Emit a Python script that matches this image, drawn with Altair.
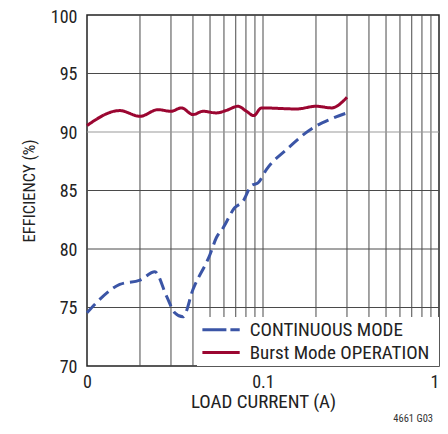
import altair as alt
import pandas as pd

FONT = "Roboto Condensed, Roboto, sans-serif"

series_names = ["CONTINUOUS MODE", "Burst Mode OPERATION"]
series_colors = ["#3b55a6", "#9b0631"]

burst_x = [0.01, 0.01535, 0.02, 0.0253, 0.03, 0.0344, 0.04, 0.0456, 0.0543, 0.062,
           0.0721, 0.0805, 0.0886, 0.0979, 0.155, 0.201, 0.245, 0.3]
burst_y = [90.55, 91.83, 91.34, 91.91, 91.77, 92.06, 91.49, 91.77, 91.63, 91.85,
           92.2, 91.77, 91.4, 92.06, 91.97, 92.2, 92.06, 92.97]

cont_x = [0.01, 0.01535, 0.02, 0.0243, 0.0283, 0.0315, 0.0351, 0.04, 0.05, 0.0543,
          0.0593, 0.069, 0.077, 0.0859, 0.0937, 0.1045, 0.136, 0.192, 0.239, 0.3]
cont_y = [74.55, 76.97, 77.34, 78.05, 75.97, 74.55, 74.2, 76.54, 79.53, 80.96,
          81.8, 83.52, 84.08, 85.42, 85.65, 86.79, 88.5, 90.35, 91.06, 91.63]

x_ticks = [0.01, 0.1, 1]
y_ticks = [70, 75, 80, 85, 90, 95, 100]
grid_x = [0.02, 0.03, 0.04, 0.05, 0.06, 0.07, 0.08, 0.09, 0.1,
          0.2, 0.3, 0.4, 0.5, 0.6, 0.7, 0.8, 0.9]
grid_y = [75, 80, 85, 90, 95]

df = pd.concat([
    pd.DataFrame({"x": cont_x, "y": cont_y, "s": series_names[0], "o": range(len(cont_x))}),
    pd.DataFrame({"x": burst_x, "y": burst_y, "s": series_names[1], "o": range(len(burst_x))}),
])

xscale = alt.Scale(type="log", domain=[0.01, 1], nice=False)
yscale = alt.Scale(domain=[70, 100], nice=False, zero=False)
cscale = alt.Scale(domain=series_names, range=series_colors)
dscale = alt.Scale(domain=series_names, range=[[12, 6], [1, 0]])

gx = alt.Chart(pd.DataFrame({"g": grid_x})).mark_rule(color="#4a4a4a", strokeWidth=1).encode(
    x=alt.X("g:Q", scale=xscale,
            axis=alt.Axis(values=x_ticks, title="LOAD CURRENT (A)",
                          labelExpr="datum.value < 0.05 ? '0' : (datum.value < 0.5 ? '0.1' : '1')",
                          labelAlign={"condition": {"test": "datum.value >= 0.5", "value": "right"},
                                      "value": "center"},
                          grid=False, ticks=False, domain=False, labelPadding=7,
                          labelFontSize=18, titleFontSize=19, titlePadding=1,
                          labelFlush=False)),
)
gy = alt.Chart(pd.DataFrame({"v": grid_y})).mark_rule(strokeWidth=1).encode(
    y=alt.Y("v:Q", scale=yscale,
            axis=alt.Axis(values=y_ticks, title="EFFICIENCY (%)", grid=False, ticks=False,
                          domain=False, labelPadding=10, labelFontSize=18,
                          labelOffset={"condition": {"test": "datum.value >= 100", "value": 2.5},
                                       "value": 1},
                          titleFontSize=16.5, titlePadding=13)),
    color=alt.condition(alt.datum.v == 90, alt.value("#999"), alt.value("#4a4a4a")),
)

box = alt.Chart(pd.DataFrame({"a": [0]})).mark_rect(fill="white").encode(
    x=alt.value(110), x2=alt.value(352), y=alt.value(302), y2=alt.value(351)
)

lines = alt.Chart(df).mark_line(strokeWidth=3, interpolate="monotone").encode(
    x=alt.X("x:Q", scale=xscale),
    y=alt.Y("y:Q", scale=yscale),
    order="o:Q",
    color=alt.Color("s:N", scale=cscale, legend=None),
    strokeDash=alt.StrokeDash("s:N", scale=dscale, legend=None),
)

leg_df = pd.DataFrame({"s": series_names})
leg_sym1 = alt.Chart(leg_df.iloc[[0]]).mark_rule(strokeWidth=3, strokeDash=[24, 4]).encode(
    x=alt.value(115.4), x2=alt.value(152.7), y=alt.value(314.7),
    color=alt.Color("s:N", scale=cscale, legend=None),
)
leg_sym2 = alt.Chart(leg_df.iloc[[1]]).mark_rule(strokeWidth=3).encode(
    x=alt.value(115.4), x2=alt.value(152.7), y=alt.value(337.4),
    color=alt.Color("s:N", scale=cscale, legend=None),
)
leg_txt1 = alt.Chart(leg_df.iloc[[0]]).mark_text(
    align="left", baseline="middle", fontSize=19, color="#222", font=FONT
).encode(text="s:N", x=alt.value(162.7), y=alt.value(315))
leg_txt2 = alt.Chart(leg_df.iloc[[1]]).mark_text(
    align="left", baseline="middle", fontSize=19, color="#222", font=FONT
).encode(text="s:N", x=alt.value(162.7), y=alt.value(338))

note = alt.Chart(pd.DataFrame({"t": ["4661 G03"]})).mark_text(
    align="right", baseline="middle", fontSize=10.5, color="#333", font=FONT
).encode(text="t:N", x=alt.value(346), y=alt.value(404))

chart = alt.layer(gx, gy, box, lines, leg_sym1, leg_sym2, leg_txt1, leg_txt2, note).properties(
    width=352, height=351,
    autosize=alt.AutoSizeParams(type="none"),
    padding={"left": 79, "top": 7, "right": 1, "bottom": 60},
).configure_view(stroke="#222", strokeWidth=1.5).configure_axis(
    labelFont=FONT, titleFont=FONT, labelColor="#222", titleColor="#222", titleFontWeight="normal"
)

chart.save("out.html", embed_options={"renderer": "svg", "actions": False})
